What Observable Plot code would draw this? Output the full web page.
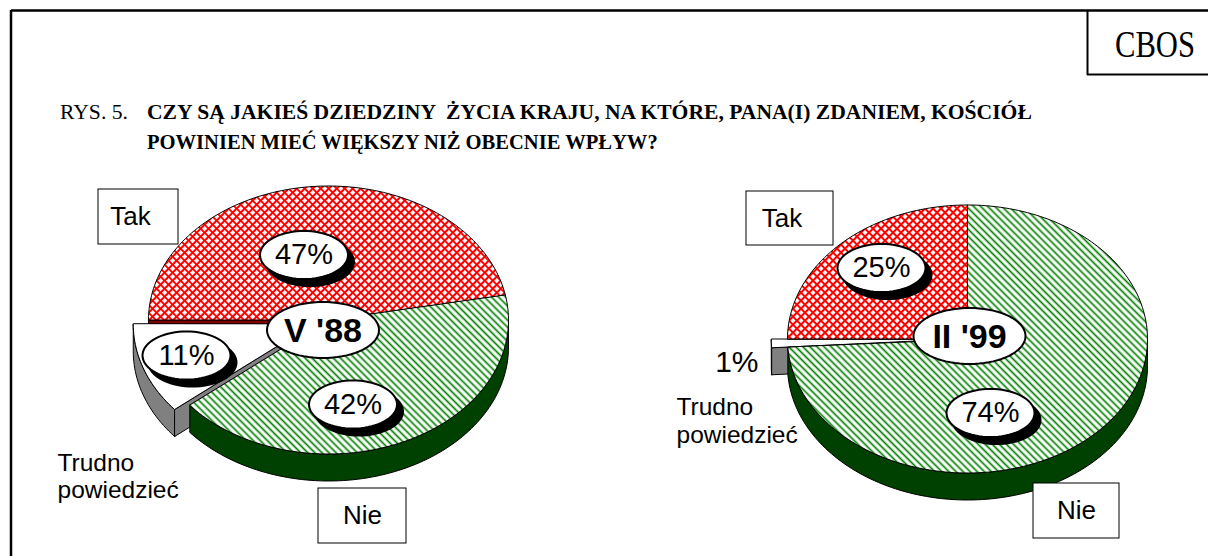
<!DOCTYPE html>
<html>
<head>
<meta charset="utf-8">
<script src="https://cdn.jsdelivr.net/npm/d3@7"></script>
<script src="https://cdn.jsdelivr.net/npm/@observablehq/plot@0.6"></script>
<style>
html, body { margin: 0; padding: 0; background: #fff; }
#wrap { position: relative; width: 1208px; height: 556px; overflow: hidden; background: #fff; }
#chart { position: absolute; left: 0; top: 0; }
#overlay { position: absolute; left: 0; top: 0; pointer-events: none; }
</style>
</head>
<body>
<div id="wrap"><div id="chart"></div><svg id="overlay" width="1208" height="556"></svg></div>
<script>
// ---------------- data ----------------
const titlePrefix = "RYS. 5.";
const titleLines = [
  "CZY SĄ JAKIEŚ DZIEDZINY  ŻYCIA KRAJU, NA KTÓRE, PANA(I) ZDANIEM, KOŚCIÓŁ",
  "POWINIEN MIEĆ WIĘKSZY NIŻ OBECNIE WPŁYW?"
];
const sourceLabel = "CBOS";
const periods = ["V '88", "II '99"];
const categories = ["Tak", "Nie", "Trudno powiedzieć"];
const shares88 = [47, 42, 11];
const shares99 = [25, 74, 1];
const explodedCategory = "Trudno powiedzieć";

// ---------------- layout / style ----------------
const W = 1208, H = 556;
const RX = 180, RY = 134, DEPTH = 27, EXPLODE = 0.09;
const sideColor = {"Tak": "#800000", "Nie": "#004000", "Trudno powiedzieć": "#808080"};
const topFill = {"Tak": "url(#redHatch)", "Nie": "url(#greenHatch)", "Trudno powiedzieć": "white"};
const pieLayout = [
  {cx: 328, cy: 319.5, period: [-5.5, 10],
   pct: {"Tak": [-24.5, -65], "Nie": [24.5, 84.5], "Trudno powiedzieć": [-142, 35.5]},
   pctBubble: {"Tak": true, "Nie": true, "Trudno powiedzieć": true},
   box: {"Tak": {x: [98, 178], y: [189, 244]}, "Nie": {x: [318, 406], y: [488, 543]}},
   trudno: {x: 57, y: [462.5, 490]}},
  {cx: 967, cy: 338.5, period: [2, -3],
   pct: {"Tak": [-86, -71], "Nie": [23, 74], "Trudno powiedzieć": [-209, 23]},
   pctBubble: {"Tak": true, "Nie": true, "Trudno powiedzieć": false},
   box: {"Tak": {x: [746, 833], y: [191, 245]}, "Nie": {x: [1033, 1119], y: [483, 538]}},
   trudno: {x: 676, y: [407, 434.5]}}
];

const seriesByPeriod = [shares88, shares99];
const pie = d3.pie().sort(null).value(d => d).startAngle(1.5 * Math.PI).endAngle(3.5 * Math.PI);
const deg = r => r * 180 / Math.PI;

function pt(c, a, dy = 0) {
  const t = a * Math.PI / 180;
  return [c.x + RX * Math.sin(t), c.y - RY * Math.cos(t) + dy];
}
function arcPts(c, a0, a1, dy = 0) {
  const n = Math.max(2, Math.ceil(Math.abs(a1 - a0) / 1.5));
  return d3.range(n + 1).map(i => pt(c, a0 + (a1 - a0) * i / n, dy));
}

const polys = [];
let pid = 0;
function addPoly(layer, cat, pts) {
  const id = pid++;
  pts.forEach(([x, y]) => polys.push({id, layer, cat, x, y}));
}

const labels = [];
const ellipses = [];
function addEllipse(kind, x0, y0, rx, ry) {
  const id = pid++;
  d3.range(72).forEach(i => {
    const t = i / 72 * 2 * Math.PI;
    ellipses.push({id, kind, x: x0 + rx * Math.cos(t), y: y0 + ry * Math.sin(t)});
  });
}

periods.forEach((period, pi) => {
  const L = pieLayout[pi];
  const arcs = pie(seriesByPeriod[pi]);
  arcs.forEach((a, j) => {
    const cat = categories[j];
    const a0 = deg(a.startAngle), a1 = deg(a.endAngle);
    const ex = cat === explodedCategory;
    const mid = (a0 + a1) / 2 * Math.PI / 180;
    const c = {
      x: L.cx + (ex ? RX * EXPLODE * Math.sin(mid) : 0),
      y: L.cy - (ex ? RY * EXPLODE * Math.cos(mid) : 0)
    };
    const pre = ex ? "x" : "";
    addPoly(pre + "top", cat, [[c.x, c.y], ...arcPts(c, a0, a1)]);
    [0, 1].forEach(k => {
      const lo = Math.max(a0, 90 + 360 * k), hi = Math.min(a1, 270 + 360 * k);
      if (hi - lo > 0.01) addPoly(pre + "side", cat, arcPts(c, lo, hi).concat(arcPts(c, lo, hi, DEPTH).reverse()));
    });
    const cutFace = ang => [[c.x, c.y], pt(c, ang), pt(c, ang, DEPTH), [c.x, c.y + DEPTH]];
    if (Math.cos((a0 - 90) * Math.PI / 180) < -1e-6) addPoly(pre + "cut", cat, cutFace(a0));
    if (Math.cos((a1 + 90) * Math.PI / 180) < -1e-6) addPoly(pre + "cut", cat, cutFace(a1));
    const [dx, dy] = L.pct[cat];
    const lx = L.cx + dx, ly = L.cy + dy;
    const bubble = L.pctBubble[cat];
    if (bubble) { addEllipse("shadow", lx + 6, ly + 7, 44, 24); addEllipse("bubble", lx, ly, 44, 24); }
    labels.push({x: lx, y: ly, text: `${seriesByPeriod[pi][j]}%`, bubble});
  });
  addEllipse("period", L.cx + L.period[0], L.cy + L.period[1], 56, 28);
});

const periodText = periods.map((p, pi) => ({x: pieLayout[pi].cx + pieLayout[pi].period[0], y: pieLayout[pi].cy + pieLayout[pi].period[1] + 1, text: p}));
const boxes = [], boxText = [], trudnoText = [];
pieLayout.forEach(L => {
  ["Tak", "Nie"].forEach(cat => {
    const b = L.box[cat];
    boxes.push({x1: b.x[0], x2: b.x[1], y1: b.y[0], y2: b.y[1]});
    boxText.push({x: (b.x[0] + b.x[1]) / 2 - (cat === "Tak" ? 8 : 0), y: (b.y[0] + b.y[1]) / 2, text: cat});
  });
  categories[2].split(" ").forEach((w, i) => trudnoText.push({x: L.trudno.x, y: L.trudno.y[i], text: w}));
});

// ---------------- marks ----------------
const marks = [];
const layerMarks = (layer, fillFor) => categories.forEach(cat => {
  const d = polys.filter(p => p.layer === layer && p.cat === cat);
  if (d.length) marks.push(Plot.line(d, {x: "x", y: "y", z: "id", curve: "linear-closed", fill: fillFor(cat), stroke: "black", strokeWidth: 1, strokeLinejoin: "round"}));
});
layerMarks("cut", cat => sideColor[cat]);
layerMarks("xside", cat => sideColor[cat]);
layerMarks("xcut", cat => sideColor[cat]);
layerMarks("xtop", cat => topFill[cat]);
layerMarks("side", cat => sideColor[cat]);
layerMarks("top", cat => topFill[cat]);

marks.push(Plot.line(ellipses.filter(e => e.kind === "shadow"), {x: "x", y: "y", z: "id", curve: "linear-closed", fill: "black", stroke: "black", strokeWidth: 2}));
marks.push(Plot.line(ellipses.filter(e => e.kind !== "shadow"), {x: "x", y: "y", z: "id", curve: "linear-closed", fill: "white", stroke: "black", strokeWidth: 2}));

const sans = "'Liberation Sans', Arial, sans-serif";
marks.push(Plot.text(labels.filter(d => d.bubble), {x: "x", y: "y", text: "text", fontSize: 29, fontFamily: sans, fill: "black", lineAnchor: "middle", textAnchor: "middle"}));
marks.push(Plot.text(labels.filter(d => !d.bubble), {x: "x", y: "y", text: "text", fontSize: 30, fontFamily: sans, fill: "black", lineAnchor: "middle", textAnchor: "end"}));
marks.push(Plot.text(periodText, {x: "x", y: "y", text: "text", fontSize: 34, fontWeight: "bold", fontFamily: sans, fill: "black", lineAnchor: "middle", textAnchor: "middle"}));
marks.push(Plot.rect(boxes, {x1: "x1", x2: "x2", y1: "y1", y2: "y2", fill: "white", stroke: "black", strokeWidth: 1}));
marks.push(Plot.text(boxText, {x: "x", y: "y", text: "text", fontSize: 26, fontFamily: sans, fill: "black", lineAnchor: "middle", textAnchor: "middle"}));
marks.push(Plot.text(trudnoText, {x: "x", y: "y", text: "text", fontSize: 24.5, fontFamily: sans, fill: "black", lineAnchor: "middle", textAnchor: "start"}));

const chart = Plot.plot({
  width: W, height: H, margin: 0,
  x: {domain: [0, W], range: [0, W], axis: null},
  y: {domain: [0, H], range: [0, H], axis: null},
  style: {background: "white"},
  marks
});

const defs = d3.select(chart).insert("defs", ":first-child");
const red = defs.append("pattern").attr("id", "redHatch").attr("patternUnits", "userSpaceOnUse")
  .attr("width", 5.66).attr("height", 5.66).attr("patternTransform", "rotate(45)");
red.append("rect").attr("width", 5.66).attr("height", 5.66).attr("fill", "white");
red.append("path").attr("d", "M0,2.83H5.66M2.83,0V5.66").attr("stroke", "#ff0000").attr("stroke-width", 2.1);
const green = defs.append("pattern").attr("id", "greenHatch").attr("patternUnits", "userSpaceOnUse")
  .attr("width", 5).attr("height", 5).attr("patternTransform", "rotate(45)");
green.append("rect").attr("width", 5).attr("height", 5).attr("fill", "white");
green.append("path").attr("d", "M0,2.5H5").attr("stroke", "#008000").attr("stroke-width", 1.7);

document.getElementById("chart").appendChild(chart);

// ---------------- header overlay (frame, source box, title) ----------------
const ov = d3.select("#overlay");
ov.append("line").attr("x1", 11).attr("x2", W).attr("y1", 10.5).attr("y2", 10.5).attr("stroke", "black").attr("stroke-width", 2.5);
ov.append("line").attr("x1", 11).attr("x2", 11).attr("y1", 10).attr("y2", H).attr("stroke", "black").attr("stroke-width", 2.5);
ov.append("line").attr("x1", 1087.5).attr("x2", 1087.5).attr("y1", 10).attr("y2", 75).attr("stroke", "black").attr("stroke-width", 2);
ov.append("line").attr("x1", 1087).attr("x2", W).attr("y1", 74.5).attr("y2", 74.5).attr("stroke", "black").attr("stroke-width", 2);
const serif = "'Liberation Serif', 'Times New Roman', serif";
function fitText(x, y, str, size, weight, len) {
  const t = ov.append("text").attr("x", 0).attr("y", 0).attr("font-family", serif).attr("font-size", size)
    .attr("font-weight", weight).style("white-space", "pre").text(str);
  const natural = t.node().getComputedTextLength() || len;
  t.attr("transform", `translate(${x},${y}) scale(${len / natural},1)`);
}
fitText(1115, 57, sourceLabel, 38, "normal", 80);
fitText(60, 119, titlePrefix, 22, "normal", 68);
fitText(147, 119, titleLines[0], 22, "bold", 885);
fitText(147, 149, titleLines[1], 22, "bold", 511);
</script>
</body>
</html>
